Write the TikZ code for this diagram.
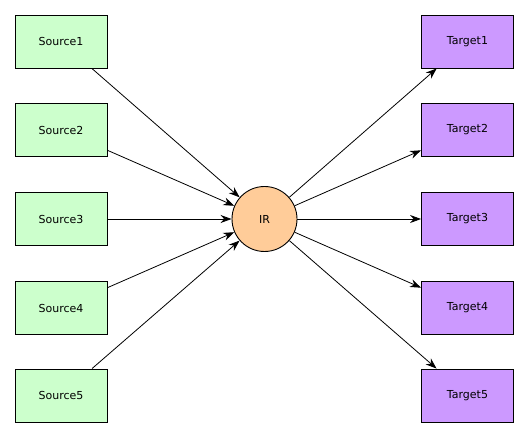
\documentclass[tikz,border=0pt]{standalone}
\usepackage{fontspec}
\setmainfont{DejaVu Sans}
\usetikzlibrary{arrows.meta}
\definecolor{srcfill}{HTML}{CCFFCC}
\definecolor{tgtfill}{HTML}{CC99FF}
\definecolor{irfill}{HTML}{FFCC99}
\tikzset{
  srcbox/.style={draw=black, line width=0.9pt, fill=srcfill, minimum width=92pt, minimum height=53pt, inner sep=0pt, font=\fontsize{11}{13}\selectfont},
  tgtbox/.style={draw=black, line width=0.9pt, fill=tgtfill, minimum width=92pt, minimum height=53pt, inner sep=0pt, font=\fontsize{11}{13}\selectfont},
  irnode/.style={circle, draw=black, line width=0.9pt, fill=irfill, minimum size=65pt, inner sep=0pt, font=\fontsize{11}{13}\selectfont},
  conn/.style={line width=0.8pt, -{Stealth[length=11pt, width=8pt]}}
}
\begin{document}
\begin{tikzpicture}[x=1pt, y=-1pt]
\useasboundingbox (0,0) rectangle (528,438);
\node[srcbox] (s1) at (61,41.5) {Source1};
\node[srcbox] (s2) at (61,130) {Source2};
\node[srcbox] (s3) at (61,219) {Source3};
\node[srcbox] (s4) at (61,308) {Source4};
\node[srcbox] (s5) at (61,395.5) {Source5};
\node[tgtbox] (t1) at (467.5,41.5) {Target1};
\node[tgtbox] (t2) at (467.5,130) {Target2};
\node[tgtbox] (t3) at (467.5,219) {Target3};
\node[tgtbox] (t4) at (467.5,308) {Target4};
\node[tgtbox] (t5) at (467.5,395.5) {Target5};
\node[irnode] (ir) at (264.5,219) {IR};
\foreach \i in {1,...,5}{
  \draw[conn] (s\i) -- (ir);
  \draw[conn] (ir) -- (t\i);
}
\end{tikzpicture}
\end{document}
